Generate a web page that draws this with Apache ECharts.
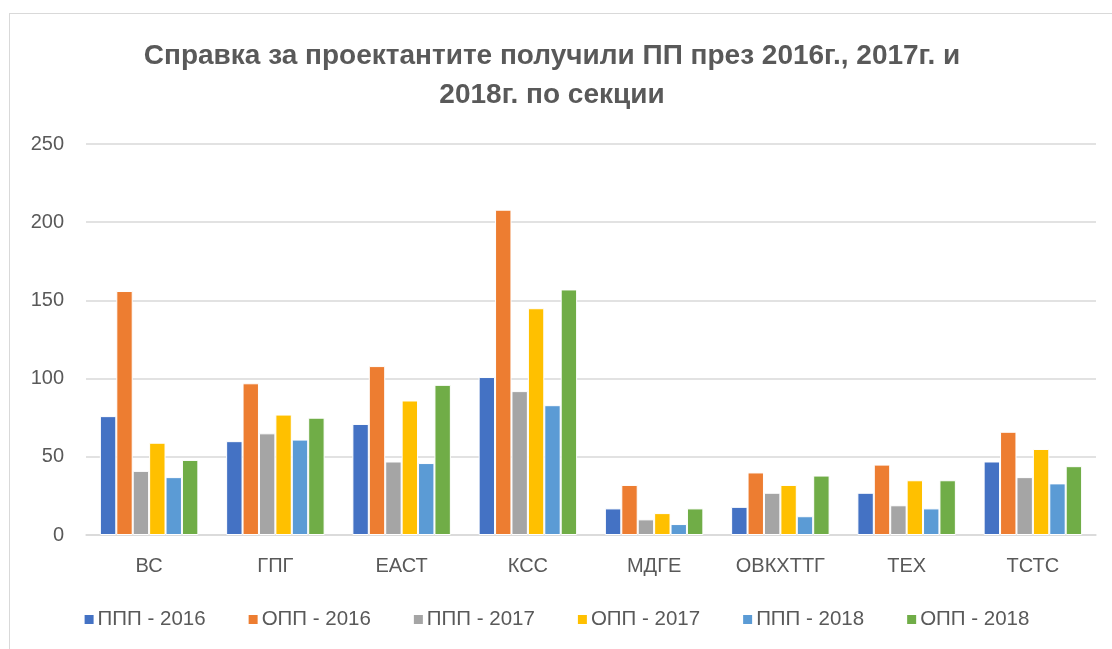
<!DOCTYPE html>
<html>
<head>
<meta charset="utf-8">
<script src="https://cdn.jsdelivr.net/npm/echarts@6/dist/echarts.min.js"></script>
<style>
  html, body { margin: 0; padding: 0; background: #fff; }
  #frame {
    position: absolute; left: 9px; top: 13px; right: -2px; bottom: -2px;
    border: 1.5px solid #d9d9d9;
  }
  #chart { position: absolute; left: 0; top: 0; width: 1112px; height: 649px; }
</style>
</head>
<body>
<div id="frame"></div>
<div id="chart"></div>
<script>
  const titleText = "Справка за проектантите получили ПП през 2016г., 2017г. и\n2018г. по секции";
  const categories = ["ВС", "ГПГ", "ЕАСТ", "КСС", "МДГЕ", "ОВКХТТГ", "ТЕХ", "ТСТС"];
  const seriesNames = ["ППП - 2016", "ОПП - 2016", "ППП - 2017", "ОПП - 2017", "ППП - 2018", "ОПП - 2018"];
  const colors = ["#4472c4", "#ed7d31", "#a5a5a5", "#ffc000", "#5b9bd5", "#70ad47"];

  const ppp2016 = [76, 60, 71, 101, 17, 18, 27, 47];
  const opp2016 = [156, 97, 108, 208, 32, 40, 45, 66];
  const ppp2017 = [41, 65, 47, 92, 10, 27, 19, 37];
  const opp2017 = [59, 77, 86, 145, 14, 32, 35, 55];
  const ppp2018 = [37, 61, 46, 83, 7, 12, 17, 33];
  const opp2018 = [48, 75, 96, 157, 17, 38, 35, 44];
  const seriesData = [ppp2016, opp2016, ppp2017, opp2017, ppp2018, opp2018];

  const yMin = 0, yMax = 250, yStep = 50;

  const font = "'Liberation Sans', Arial, sans-serif";
  const textColor = "#595959";

  const chart = echarts.init(document.getElementById("chart"), null, { renderer: "canvas" });

  const option = {
    animation: false,
    color: colors,
    title: {
      text: titleText,
      left: 547,
      textAlign: "center",
      top: 32,
      textStyle: {
        fontFamily: font,
        fontSize: 28,
        fontWeight: "bold",
        color: textColor,
        lineHeight: 39,
      },
    },
    grid: {
      left: 86,
      right: 16,
      top: 144,
      bottom: 114,
      containLabel: false,
    },
    legend: {
      bottom: 14,
      left: "center",
      itemWidth: 11,
      itemHeight: 11,
      itemGap: 41,
      icon: "rect",
      textStyle: {
        fontFamily: font,
        fontSize: 20.5,
        color: textColor,
        padding: [0, 0, 0, -2],
      },
      data: seriesNames,
    },
    xAxis: {
      type: "category",
      data: categories,
      axisLine: { lineStyle: { color: "#d9d9d9", width: 1.5 } },
      axisTick: { show: false },
      axisLabel: {
        fontFamily: font,
        fontSize: 20,
        color: textColor,
        margin: 21,
      },
    },
    yAxis: {
      type: "value",
      min: yMin,
      max: yMax,
      interval: yStep,
      axisLine: { show: false },
      axisTick: { show: false },
      axisLabel: {
        fontFamily: font,
        fontSize: 20,
        color: textColor,
        margin: 22,
      },
      splitLine: { lineStyle: { color: "#d9d9d9", width: 1.5 } },
    },
    series: seriesNames.map((name, i) => ({
      name: name,
      type: "bar",
      data: seriesData[i],
      barGap: "0%",
      barCategoryGap: "22%",
      itemStyle: {
        color: colors[i],
        borderColor: "#ffffff",
        borderWidth: 1,
      },
    })),
  };

  chart.setOption(option);
</script>
</body>
</html>
